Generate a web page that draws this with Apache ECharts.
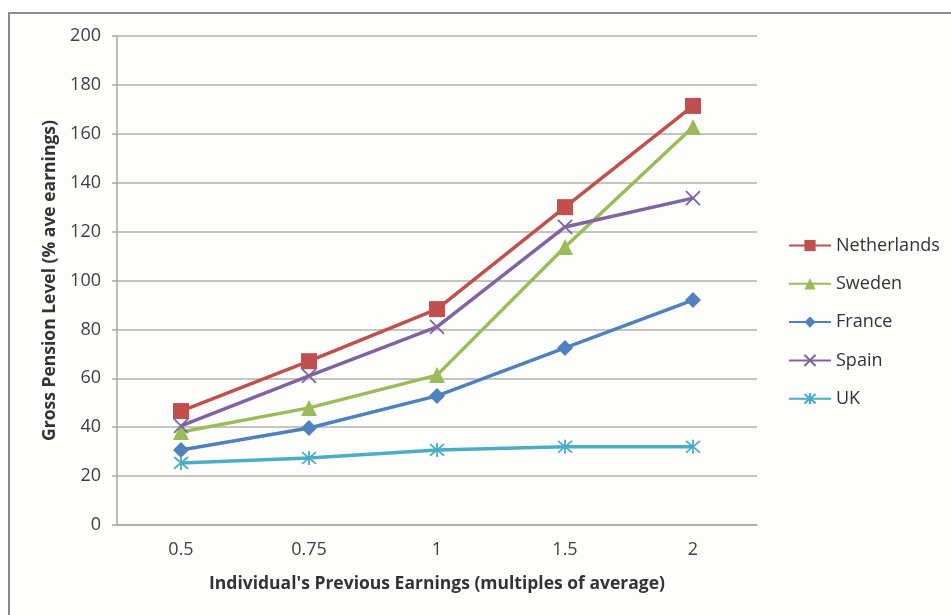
<!DOCTYPE html>
<html>
<head>
<meta charset="utf-8">
<script src="https://cdn.jsdelivr.net/npm/echarts@6/dist/echarts.min.js"></script>
<style>
html,body{margin:0;padding:0;background:#ffffff;}
#chart{width:951px;height:615px;}
</style>
</head>
<body>
<div id="chart"></div>
<script>
var categories = ['0.5', '0.75', '1', '1.5', '2'];
var yTicks = [0, 20, 40, 60, 80, 100, 120, 140, 160, 180, 200];
var netherlands = [46.6, 67, 88.3, 130, 171.4];
var sweden = [38, 47.9, 61.3, 113.7, 162.8];
var france = [30.7, 39.7, 52.8, 72.4, 92];
var spain = [40.5, 61, 81, 121.9, 133.7];
var uk = [25.4, 27.4, 30.7, 32, 32];

var FONT = 'Open Sans';
var chart = echarts.init(document.getElementById('chart'));

function mkSeries(name, data, color, symbol, size, stroke) {
  var s = {
    name: name,
    type: 'line',
    data: data,
    symbol: symbol,
    symbolSize: size,
    showAllSymbol: true,
    lineStyle: { color: color, width: 3.5 },
    itemStyle: { color: color },
    emphasis: { disabled: true },
    animation: false
  };
  if (stroke) {
    s.itemStyle = { color: color, borderColor: color, borderWidth: 1.8 };
  }
  return s;
}

chart.setOption({
  backgroundColor: '#ffffff',
  animation: false,
  graphic: [{
    type: 'rect',
    shape: { x: 9, y: 13, width: 960, height: 620 },
    style: { fill: '#fdfdfb', stroke: '#8a8a8a', lineWidth: 2 },
    silent: true,
    z: -10
  }],
  grid: { left: 117, right: 194, top: 36, bottom: 90 },
  legend: {
    orient: 'vertical',
    left: 783,
    top: 230,
    itemWidth: 42,
    itemHeight: 14,
    itemGap: 17.3,
    textStyle: { fontFamily: FONT, fontSize: 18, color: '#333333', lineHeight: 21 },
    data: ['Netherlands', 'Sweden', 'France', 'Spain', 'UK']
  },
  xAxis: {
    type: 'category',
    data: categories,
    boundaryGap: true,
    name: "Individual's Previous Earnings (multiples of average)",
    nameLocation: 'middle',
    nameGap: 50,
    nameTextStyle: { fontFamily: FONT, fontSize: 17.5, fontWeight: 'bold', color: '#333333' },
    axisLine: { lineStyle: { color: '#a6a6a6', width: 1.5 } },
    axisTick: { show: false },
    axisLabel: { fontFamily: FONT, fontSize: 18, color: '#404040', margin: 16 },
    splitLine: { show: false }
  },
  yAxis: {
    type: 'value',
    min: yTicks[0],
    max: yTicks[yTicks.length - 1],
    interval: yTicks[1] - yTicks[0],
    name: 'Gross Pension Level (% ave earnings)',
    nameLocation: 'middle',
    nameGap: 58,
    nameTextStyle: { fontFamily: FONT, fontSize: 17.5, fontWeight: 'bold', color: '#333333' },
    axisLine: { show: true, lineStyle: { color: '#a6a6a6', width: 1.5 } },
    axisTick: { show: true, length: 5, lineStyle: { color: '#a6a6a6', width: 1.5 } },
    axisLabel: { fontFamily: FONT, fontSize: 18, color: '#404040', margin: 16 },
    splitLine: { show: true, lineStyle: { color: '#b0b0b0', width: 1.5 } }
  },
  series: [
    mkSeries('Netherlands', netherlands, '#c0504d', 'rect', 16),
    mkSeries('Sweden', sweden, '#9bbb59', 'triangle', 16),
    mkSeries('France', france, '#4f81bd', 'diamond', 16),
    mkSeries('Spain', spain, '#8064a2', 'path://M0,0L10,10M10,0L0,10', 14, true),
    mkSeries('UK', uk, '#4bacc6', 'path://M0,0L10,10M10,0L0,10M5,-1L5,11', 14, true)
  ]
});
</script>
</body>
</html>
